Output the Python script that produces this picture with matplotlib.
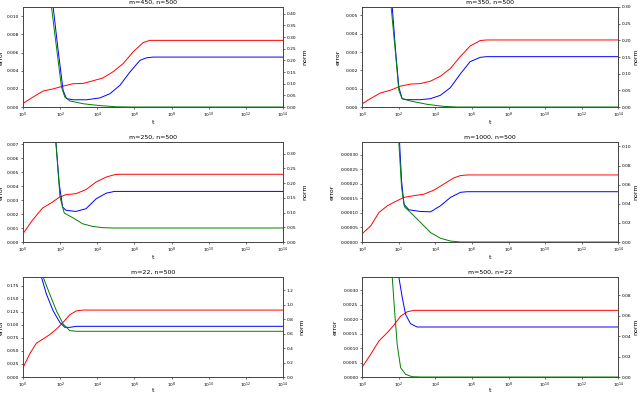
import numpy as np
import matplotlib
matplotlib.use("Agg")
import matplotlib.pyplot as plt

# values; t given as log10(t)
titles = ["m=450, n=500", "m=350, n=500", "m=250, n=500",
          "m=1000, n=500", "m=22, n=500", "m=500, n=22"]

# m=450, n=500
red1_t = [0, 0.54, 1.08, 1.62, 2.16, 2.7, 3.24, 3.78, 4.3, 4.86, 5.4, 5.94, 6.47, 6.83, 14]
red1_y = [0.0004, 0.0011, 0.00176, 0.002, 0.0023, 0.00257, 0.0026, 0.0029, 0.0032, 0.0039,
          0.0048, 0.0061, 0.0071, 0.00735, 0.00735]
blue1_t = [1.45, 1.62, 1.89, 2.16, 2.34, 2.7, 3.42, 4.14, 4.68, 5.22, 5.76, 6.3, 6.66, 7.02, 14]
blue1_y = [0.6, 0.43, 0.243, 0.071, 0.036, 0.031, 0.031, 0.039, 0.057, 0.093, 0.15, 0.2,
           0.211, 0.214, 0.214]
green1_t = [1.4, 1.53, 1.8, 2.07, 2.25, 2.52, 3.24, 4.14, 5.04, 5.94, 14]
green1_y = [0.6, 0.43, 0.257, 0.086, 0.043, 0.026, 0.014, 0.006, 0.001, 0.0, 0.0]

# m=350, n=500
red2_t = [0, 0.45, 1.0, 1.55, 2.09, 2.64, 3.18, 3.73, 4.27, 4.82, 5.36, 5.9, 6.45, 6.8, 14]
red2_y = [0.00018, 0.00046, 0.00077, 0.00092, 0.00114, 0.00125, 0.00128, 0.00141, 0.00168,
          0.0021, 0.00275, 0.00333, 0.00363, 0.00366, 0.00366]
blue2_t = [1.5, 1.64, 1.82, 2.0, 2.18, 2.45, 3.18, 3.73, 4.27, 4.82, 5.36, 5.9, 6.45, 6.8, 14]
blue2_y = [0.45, 0.30, 0.171, 0.06, 0.025, 0.022, 0.022, 0.025, 0.035, 0.058, 0.099, 0.136,
           0.149, 0.151, 0.151]
green2_t = [1.45, 1.58, 1.82, 2.0, 2.18, 2.64, 3.55, 4.45, 5.18, 14]
green2_y = [0.45, 0.30, 0.161, 0.05, 0.025, 0.018, 0.008, 0.002, 0.0, 0.0]

# m=250, n=500
red3_t = [0, 0.5, 1.05, 1.59, 1.95, 2.31, 2.85, 3.39, 3.94, 4.48, 4.93, 5.2, 14]
red3_y = [0.0006, 0.00155, 0.00243, 0.00286, 0.0032, 0.00339, 0.00346, 0.00375, 0.0043,
          0.00465, 0.00482, 0.00485, 0.00485]
blue3_t = [1.6, 1.77, 1.95, 2.13, 2.31, 2.85, 3.39, 3.94, 4.48, 4.93, 5.2, 14]
blue3_y = [0.5, 0.34, 0.198, 0.119, 0.108, 0.104, 0.113, 0.147, 0.166, 0.172, 0.172, 0.172]
green3_t = [1.6, 1.77, 1.99, 2.22, 2.67, 3.21, 3.75, 4.3, 4.84, 14]
green3_y = [0.5, 0.34, 0.153, 0.0985, 0.083, 0.062, 0.053, 0.0487, 0.0476, 0.0476]

# m=1000, n=500
red4_t = [0, 0.46, 0.91, 1.37, 1.82, 2.28, 2.83, 3.37, 3.92, 4.47, 5.01, 5.38, 5.74, 14]
red4_y = [0.0000287, 0.000055, 0.000101, 0.000124, 0.000139, 0.000153, 0.000159, 0.000164,
          0.000178, 0.000199, 0.00022, 0.000228, 0.00023, 0.00023]
blue4_t = [1.95, 2.04, 2.15, 2.28, 2.55, 3.19, 3.74, 4.28, 4.83, 5.38, 5.74, 14]
blue4_y = [0.15, 0.1046, 0.0642, 0.0396, 0.0337, 0.0319, 0.0316, 0.0379, 0.0467, 0.052,
           0.0526, 0.0526]
green4_t = [1.95, 2.0, 2.15, 2.31, 2.64, 3.19, 3.74, 4.28, 4.83, 5.38, 14]
green4_y = [0.15, 0.1046, 0.0572, 0.0368, 0.0309, 0.0204, 0.0098, 0.0039, 0.001, 0.0, 0.0]

# m=22, n=500
red5_t = [0, 0.36, 0.72, 1.08, 1.44, 1.8, 2.16, 2.52, 2.88, 3.24, 14]
red5_y = [0.0178, 0.0445, 0.065, 0.073, 0.0814, 0.092, 0.105, 0.1196, 0.127, 0.1285, 0.1285]
blue5_t = [0.8, 0.99, 1.26, 1.62, 1.98, 2.25, 2.52, 2.88, 3.24, 14]
blue5_y = [1.6, 1.385, 1.147, 0.917, 0.757, 0.688, 0.688, 0.702, 0.702, 0.702]
green5_t = [0.9, 1.08, 1.44, 1.8, 2.16, 2.52, 2.88, 14]
green5_y = [1.6, 1.385, 1.147, 0.917, 0.734, 0.642, 0.633, 0.633]

# m=500, n=22
red6_t = [0, 0.46, 0.91, 1.37, 1.73, 2.1, 2.46, 2.83, 14]
red6_y = [0.000345, 0.00078, 0.00124, 0.00153, 0.00179, 0.0021, 0.00225, 0.0023, 0.0023]
blue6_t = [1.85, 2.0, 2.19, 2.37, 2.64, 3.0, 14]
blue6_y = [0.14, 0.0976, 0.0774, 0.0611, 0.052, 0.0488, 0.0488]
green6_t = [1.5, 1.64, 1.77, 1.91, 2.1, 2.37, 2.73, 3.2, 14]
green6_y = [0.14, 0.0976, 0.0644, 0.0319, 0.0091, 0.0026, 0.0003, 0.0, 0.0]

err_lims = [0.01103, 0.00546, 0.00716, 0.000343, 0.192, 0.00345]
norm_lims = [0.4286, 0.30, 0.34, 0.1046, 1.385, 0.0976]
err_ticks = [np.arange(0, 0.0101, 0.002), np.arange(0, 0.00501, 0.001),
             np.arange(0, 0.00701, 0.001), np.arange(0, 0.000301, 0.00005),
             np.arange(0, 0.1751, 0.025), np.arange(0, 0.00301, 0.0005)]
norm_ticks = [np.arange(0, 0.401, 0.05), np.arange(0, 0.301, 0.05), np.arange(0, 0.301, 0.05),
              np.arange(0, 0.101, 0.02), np.arange(0, 1.21, 0.2), np.arange(0, 0.081, 0.02)]
err_fmt = ["%.3f", "%.3f", "%.3f", "%.5f", "%.3f", "%.4f"]
norm_fmt = ["%.2f", "%.2f", "%.2f", "%.2f", "%.1f", "%.2f"]

reds = [(red1_t, red1_y), (red2_t, red2_y), (red3_t, red3_y),
        (red4_t, red4_y), (red5_t, red5_y), (red6_t, red6_y)]
blues = [(blue1_t, blue1_y), (blue2_t, blue2_y), (blue3_t, blue3_y),
         (blue4_t, blue4_y), (blue5_t, blue5_y), (blue6_t, blue6_y)]
greens = [(green1_t, green1_y), (green2_t, green2_y), (green3_t, green3_y),
          (green4_t, green4_y), (green5_t, green5_y), (green6_t, green6_y)]

fig = plt.figure(figsize=(6.4, 3.93), dpi=100)
lefts = [0.036, 0.566]
widths = [0.406, 0.4]
bottoms = [0.7277, 0.3842, 0.0407]
height = 0.2545
fs = 3.2

for i in range(6):
    row, col = i // 2, i % 2
    ax = fig.add_axes([lefts[col], bottoms[row], widths[col], height])
    ax2 = ax.twinx()
    rt, ry = reds[i]
    bt, by = blues[i]
    gt, gy = greens[i]
    ax.plot(10 ** np.array(rt), ry, color="red", lw=0.7)
    ax2.plot(10 ** np.array(bt), by, color="blue", lw=0.7)
    ax2.plot(10 ** np.array(gt), gy, color="green", lw=0.7)
    ax.set_xscale("log")
    ax.set_xlim(1, 1e14)
    ax.set_xticks([10.0 ** k for k in range(0, 15, 2)])
    ax.minorticks_off()
    ax2.minorticks_off()
    ax.set_ylim(0, err_lims[i])
    ax2.set_ylim(0, norm_lims[i])
    ax.set_yticks(err_ticks[i])
    ax2.set_yticks(norm_ticks[i])
    ax.set_yticklabels([err_fmt[i] % v for v in err_ticks[i]])
    ax2.set_yticklabels([norm_fmt[i] % v for v in norm_ticks[i]])
    for a in (ax, ax2):
        a.tick_params(labelsize=fs, length=1.5, width=0.4, pad=1.2)
        for s in a.spines.values():
            s.set_linewidth(0.6)
            s.set_color("#444444")
    ax.set_title(titles[i], fontsize=4.5, pad=2)
    ax.set_xlabel("t", fontsize=4.5, labelpad=0)
    ax.set_ylabel("error", fontsize=4.5)
    ax2.set_ylabel("norm", fontsize=4.5)
    if row == 2:
        ax.xaxis.set_label_coords(0.5, -0.11)
    if col == 0:
        ax.yaxis.set_label_coords(-0.075, 0.5)
    else:
        ax2.yaxis.set_label_coords(1.06, 0.5)

fig.savefig("out.png", dpi=100)
